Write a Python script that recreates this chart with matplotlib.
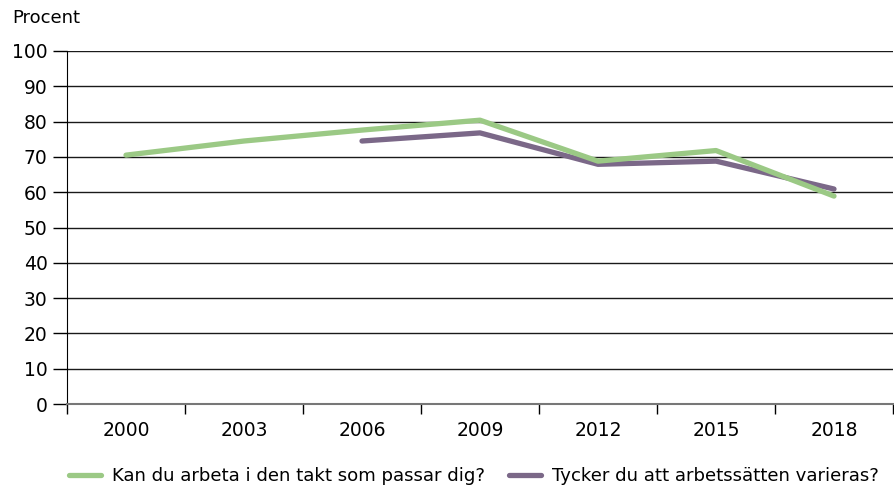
import matplotlib
matplotlib.use("Agg")
import matplotlib.pyplot as plt
import numpy as np

years = ["2000", "2003", "2006", "2009", "2012", "2015", "2018"]
takt = [70.5, 74.5, 77.6, 80.4, 68.8, 71.8, 58.9]
varieras = [None, None, 74.5, 76.8, 67.9, 68.8, 60.9]
series_names = ["Kan du arbeta i den takt som passar dig?", "Tycker du att arbetssätten varieras?"]
colors = ["#9BC985", "#7B6888"]
yticks = list(range(0, 101, 10))

plt.rcParams['font.family'] = ['DejaVu Sans']
fs = 13.5

fig = plt.figure(figsize=(8.94, 4.91), dpi=100)
ax = fig.add_axes([67/894, 1-404/491, 826/894, 353/491])

x = np.arange(len(years))
v2 = np.array([np.nan if v is None else v for v in varieras], dtype=float)
l1, = ax.plot(x, takt, color=colors[0], lw=3.8, solid_capstyle='round', solid_joinstyle='round', zorder=3)
l2, = ax.plot(x, v2, color=colors[1], lw=3.8, solid_capstyle='round', solid_joinstyle='round', zorder=2)

ax.set_xlim(-0.5, len(years) - 0.5)
ax.set_ylim(0, 100)
ax.set_yticks(yticks)
ax.set_yticklabels([str(t) for t in yticks], fontsize=fs)
ax.set_xticks(x)
ax.set_xticklabels(years, fontsize=fs)
ax.set_xticks(np.arange(-0.5, len(years), 1), minor=True)
ax.tick_params(axis='x', which='major', length=0, pad=12)
ax.tick_params(axis='x', which='minor', length=7, width=1, color='#000000', direction='out')
ax.tick_params(axis='y', length=10, width=1, direction='out', pad=4)

ax.grid(axis='y', color='#1a1a1a', lw=1)
ax.set_axisbelow(True)
for s in ['top', 'right']:
    ax.spines[s].set_visible(False)
ax.spines['left'].set_color('#000000')
ax.spines['bottom'].set_color('#777777')
ax.spines['bottom'].set_linewidth(1.5)

fig.text(12/894, 1-18/491, "Procent", fontsize=13, va='center', ha='left')

leg = fig.legend([l1, l2], series_names, loc='center', bbox_to_anchor=(474/894, 1-476/491),
                 ncol=2, frameon=False, fontsize=13.1, handlelength=1.75, handletextpad=0.6, columnspacing=1.35)

fig.savefig("out.png", dpi=100)
